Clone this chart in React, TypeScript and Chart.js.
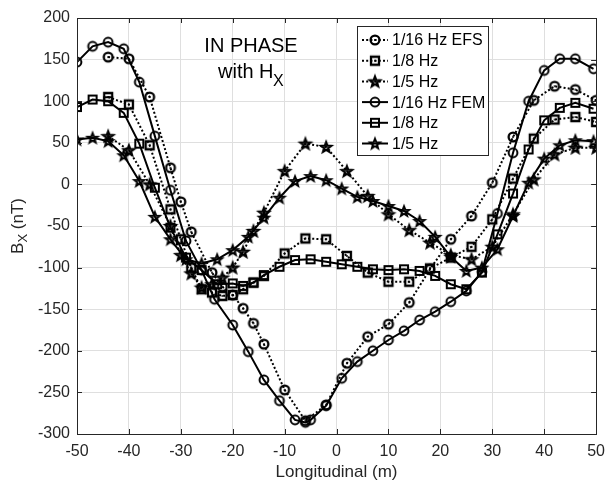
import React, { useEffect, useRef } from "react";
import { Chart, registerables } from "chart.js";
Chart.register(...registerables);

// ---- data ----
const efs16X = [-44, -40, -36, -32, -30, -28, -24, -22, -20, -18, -16, -14, -10, -6, -2, 2, 6, 10, 14, 18, 22, 26, 30, 34, 38, 42, 46, 50];
const efs16Y = [153, 151, 105, 20, -21, -57, -106, -123, -133, -149, -167, -192, -247, -284, -265, -215, -183, -168, -142, -102, -66, -38, 2, 57, 101, 118, 114, 101];

const efs8X = [-44, -40, -36, -32, -30, -28, -26, -24, -22, -20, -18, -16, -14, -10, -6, -2, 2, 6, 10, 14, 18, 22, 26, 30, 34, 38, 42, 46, 50];
const efs8Y = [105, 96, 47, -30, -66, -100, -126, -130, -134, -133, -126, -118, -110, -83, -65, -66, -86, -106, -117, -117, -101, -88, -75, -42, 7, 55, 78, 81, 75];

const efs5X = [-44, -40, -36, -32, -30, -28, -26, -24, -22, -20, -18, -16, -14, -10, -6, -2, 2, 6, 10, 14, 18, 22, 26, 30, 34, 38, 42, 46, 50];
const efs5Y = [58, 41, 0, -50, -85, -107, -124, -120, -112, -100, -81, -56, -34, 16, 49, 45, 16, -14, -36, -55, -70, -85, -90, -75, -36, 6, 36, 44, 44];

const fem16X = [-50, -47, -44, -41, -38, -35, -32, -29, -26, -23.5, -20, -17, -14, -11, -8, -6, -5, -2, 1, 4, 7, 10, 13, 16, 19, 22, 25, 28, 31, 34, 37, 40, 43, 46, 49.5];
const fem16Y = [147, 166, 171, 163, 123, 58, -7, -68, -103, -138, -169, -201, -235, -260, -283, -286, -283, -266, -233, -213, -200, -187, -176, -163, -153, -141, -128, -105, -35, 38, 100, 137, 151, 151, 139];

const fem8X = [-50, -47, -44, -41, -38, -35, -32, -29, -26, -23, -20, -18, -16, -14, -11, -8, -5, -2, 1, 4, 7, 10, 13, 16, 19, 22, 25, 28, 31, 34, 37, 40, 43, 46, 49.5];
const fem8Y = [93, 102, 100, 86, 49, -4, -52, -88, -103, -120, -119, -122, -118, -109, -99, -91, -90, -93, -96, -99, -102, -103, -102, -104, -110, -120, -126, -106, -60, -11, 42, 77, 92, 98, 91];

const fem5X = [-50, -47, -44, -41, -38, -35, -32, -29, -26, -23, -20, -17, -14, -11, -8, -5, -2, 1, 4, 7, 10, 13, 16, 19, 22, 25, 28, 31, 34, 37, 40, 43, 46, 49.5];
const fem5Y = [54, 56, 52, 35, 4, -39, -66, -90, -95, -90, -79, -63, -40, -16, 4, 10, 5, -5, -15, -20, -26, -32, -44, -63, -87, -104, -100, -78, -38, 2, 31, 47, 53, 52];

const seriesLabels = ["1/16 Hz EFS", "1/8 Hz", "1/5 Hz", "1/16 Hz FEM", "1/8 Hz", "1/5 Hz"];
const xTicks = [-50, -40, -30, -20, -10, 0, 10, 20, 30, 40, 50];
const yTicks = [200, 150, 100, 50, 0, -50, -100, -150, -200, -250, -300];

const FONT = "'Liberation Sans', Arial, Helvetica, sans-serif";
const INK = "#262626";

function makeMarker(shape: string, dotted: boolean): HTMLCanvasElement {
  const s = 18;
  const c = document.createElement("canvas");
  c.width = s;
  c.height = s;
  const ctx = c.getContext("2d")!;
  const m = s / 2;
  ctx.strokeStyle = "#000";
  ctx.lineWidth = dotted ? 2.3 : 2;
  ctx.lineJoin = "miter";
  ctx.beginPath();
  if (shape === "circle") {
    ctx.arc(m, m, 4.4, 0, Math.PI * 2);
  } else if (shape === "square") {
    ctx.rect(m - 4, m - 4, 8, 8);
  } else {
    const R = 5.2, r = 2.2;
    for (let i = 0; i < 10; i++) {
      const rad = i % 2 === 0 ? R : r;
      const a = -Math.PI / 2 + (i * Math.PI) / 5;
      const px = m + rad * Math.cos(a);
      const py = m + 0.5 + rad * Math.sin(a);
      if (i === 0) ctx.moveTo(px, py);
      else ctx.lineTo(px, py);
    }
    ctx.closePath();
  }
  ctx.stroke();
  if (dotted) {
    ctx.fillStyle = "#000";
    ctx.beginPath();
    ctx.arc(m, m, 1, 0, Math.PI * 2);
    ctx.fill();
  }
  return c;
}

export default function App() {
  const ref = useRef<HTMLCanvasElement | null>(null);

  useEffect(() => {
    document.body.style.margin = "0";
    const canvas = ref.current;
    if (!canvas) return;

    const DOT = [2, 2.2];
    const defs = [
      { x: efs16X, y: efs16Y, shape: "circle", dotted: true },
      { x: efs8X, y: efs8Y, shape: "square", dotted: true },
      { x: efs5X, y: efs5Y, shape: "star", dotted: true },
      { x: fem16X, y: fem16Y, shape: "circle", dotted: false },
      { x: fem8X, y: fem8Y, shape: "square", dotted: false },
      { x: fem5X, y: fem5Y, shape: "star", dotted: false },
    ];
    const markers = defs.map((d) => makeMarker(d.shape, d.dotted));

    const datasets = defs.map((d, i) => ({
      label: seriesLabels[i],
      data: d.x.map((xv, j) => ({ x: xv, y: d.y[j] })),
      showLine: true,
      borderColor: "#000",
      backgroundColor: "#000",
      borderWidth: 2,
      borderDash: d.dotted ? DOT : [],
      pointStyle: markers[i],
      pointRadius: 5,
      pointHoverRadius: 5,
      tension: 0,
      fill: false,
    }));

    const decor = {
      id: "decor",
      afterDatasetsDraw(chart: any) {
        const ctx = chart.ctx;
        ctx.save();
        ctx.fillStyle = "#000";
        ctx.textAlign = "center";
        ctx.textBaseline = "middle";
        ctx.font = `20px ${FONT}`;
        ctx.fillText("IN PHASE", 251, 46);
        ctx.textAlign = "left";
        ctx.fillText("with H", 218, 72);
        ctx.font = `16px ${FONT}`;
        ctx.fillText("X", 273, 82);
        ctx.restore();
      },
      afterDraw(chart: any) {
        const ctx = chart.ctx;
        const { left, right, top, bottom } = chart.chartArea;
        const xs = chart.scales.x;
        const ys = chart.scales.y;
        ctx.save();
        ctx.strokeStyle = INK;
        ctx.lineWidth = 1;
        ctx.strokeRect(Math.round(left) + 0.5, Math.round(top) + 0.5, Math.round(right - left), Math.round(bottom - top));
        const tl = 5;
        ctx.beginPath();
        xTicks.forEach((t) => {
          const px = Math.round(xs.getPixelForValue(t)) + 0.5;
          ctx.moveTo(px, bottom);
          ctx.lineTo(px, bottom - tl);
          ctx.moveTo(px, top);
          ctx.lineTo(px, top + tl);
        });
        yTicks.forEach((t) => {
          const py = Math.round(ys.getPixelForValue(t)) + 0.5;
          ctx.moveTo(left, py);
          ctx.lineTo(left + tl, py);
          ctx.moveTo(right, py);
          ctx.lineTo(right - tl, py);
        });
        ctx.stroke();

        // axis titles
        ctx.fillStyle = INK;
        ctx.font = `17px ${FONT}`;
        ctx.textAlign = "center";
        ctx.textBaseline = "middle";
        ctx.fillText("Longitudinal (m)", (left + right) / 2, 472);
        ctx.save();
        ctx.translate(18, (top + bottom) / 2);
        ctx.rotate(-Math.PI / 2);
        ctx.textAlign = "left";
        const w1 = ctx.measureText("B").width;
        ctx.font = `13px ${FONT}`;
        const w2 = ctx.measureText("X").width;
        ctx.font = `17px ${FONT}`;
        const w3 = ctx.measureText(" (nT)").width;
        const total = w1 + w2 + w3;
        let cx = -total / 2;
        ctx.fillText("B", cx, 0);
        cx += w1;
        ctx.font = `13px ${FONT}`;
        ctx.fillText("X", cx, 5);
        cx += w2;
        ctx.font = `17px ${FONT}`;
        ctx.fillText(" (nT)", cx, 0);
        ctx.restore();

        // legend
        const lx = 357, ly = 26, lw = 131, lh = 129;
        ctx.fillStyle = "#fff";
        ctx.fillRect(lx, ly, lw, lh);
        ctx.strokeStyle = INK;
        ctx.lineWidth = 1;
        ctx.strokeRect(lx + 0.5, ly + 0.5, lw, lh);
        ctx.font = `16px ${FONT}`;
        ctx.textAlign = "left";
        ctx.textBaseline = "middle";
        defs.forEach((d, i) => {
          const ry = 40 + i * 20.7;
          ctx.strokeStyle = "#000";
          ctx.lineWidth = 2;
          ctx.setLineDash(d.dotted ? DOT : []);
          ctx.beginPath();
          ctx.moveTo(362, ry);
          ctx.lineTo(388, ry);
          ctx.stroke();
          ctx.setLineDash([]);
          const mk = markers[i];
          ctx.drawImage(mk, 375 - mk.width / 2, ry - mk.height / 2);
          ctx.fillStyle = "#000";
          ctx.fillText(seriesLabels[i], 392, ry + 1);
        });
        ctx.restore();
      },
    };

    const chart = new Chart(canvas, {
      type: "scatter",
      data: { datasets: datasets as any },
      options: {
        animation: false,
        responsive: false,
        layout: { padding: { top: 18, right: 9, left: 0, bottom: 0 } },
        plugins: { legend: { display: false }, tooltip: { enabled: false } },
        scales: {
          x: {
            type: "linear",
            min: -50,
            max: 50,
            afterFit: (s: any) => {
              s.height = 51;
            },
            afterBuildTicks: (s: any) => {
              s.ticks = xTicks.map((v) => ({ value: v }));
            },
            ticks: { color: INK, font: { family: FONT, size: 16 }, padding: 8, maxRotation: 0 },
            grid: { color: "#dfdfdf", drawTicks: false, lineWidth: 1 },
            border: { display: false },
          },
          y: {
            type: "linear",
            min: -300,
            max: 200,
            afterFit: (s: any) => {
              s.width = 77;
            },
            afterBuildTicks: (s: any) => {
              s.ticks = yTicks.map((v) => ({ value: v }));
            },
            ticks: { color: INK, font: { family: FONT, size: 16 }, padding: 7 },
            grid: { color: "#dfdfdf", drawTicks: false, lineWidth: 1 },
            border: { display: false },
          },
        },
      },
      plugins: [decor],
    });
    return () => chart.destroy();
  }, []);

  return (
    <div style={{ width: 613, height: 485 }}>
      <canvas ref={ref} width={613} height={485} style={{ display: "block" }} />
    </div>
  );
}
